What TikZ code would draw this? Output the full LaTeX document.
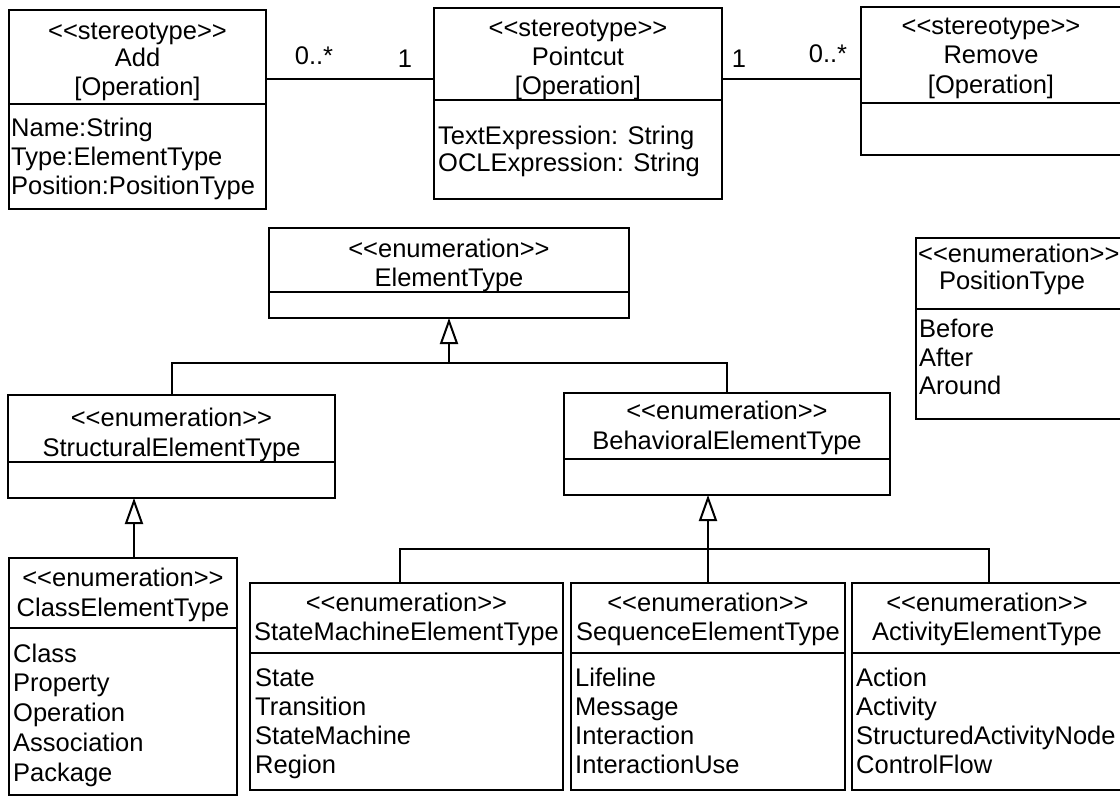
\documentclass[tikz,border=0pt]{standalone}
\usepackage{fontspec}
\setmainfont{Liberation Sans}
\usetikzlibrary{arrows.meta}

% class box: name, left, top, right, bottom, y of the compartment line
\newcommand{\umlbox}[6]{%
  \node[box, minimum width={(#4)-(#2)}, minimum height={(#5)-(#3)}] (#1) at (#2,#3) {};
  \draw[divider] (#1.west |- 0,#6) -- (#1.east |- 0,#6);
}

\begin{document}
\begin{tikzpicture}[x=1pt,y=-1pt,
  box/.style={draw, line width=1.3pt, inner sep=0pt, outer sep=0pt, anchor=north west},
  divider/.style={line width=1.3pt},
  assoc/.style={line width=2.2pt},
  link/.style={line width=2pt},
  gen/.style={line width=2pt, -{Triangle[open,length=26pt,width=18pt]}},
  txt/.style={inner sep=0pt, font=\fontsize{25.5}{29}\selectfont, anchor=base},
  lft/.style={txt, anchor=base west},
]
\useasboundingbox (0,0) rectangle (1120,797);
\fill[white] (0,0) rectangle (1120,797);
\clip (0,0) rectangle (1120,797);

% ---- stereotypes ----
\umlbox{add}{9}{10}{266}{209}{104}
\node[txt] (add-1) at (137.5,40) {<{}<stereotype>{}>};
\node[txt] (add-2) at (137.5,67) {Add};
\node[txt] (add-3) at (137.5,96) {[Operation]};
\node[lft] (add-a1) at (11,137) {Name:String};
\node[lft] (add-a2) at (11,166) {Type:ElementType};
\node[lft] (add-a3) at (11,195) {Position:PositionType};

\umlbox{pc}{434}{8}{722}{199}{100}
\node[txt] (pc-1) at (578,37) {<{}<stereotype>{}>};
\node[txt] (pc-2) at (578,66) {Pointcut};
\node[txt] (pc-3) at (578,95) {[Operation]};
\node[lft] (pc-a1) at (438,145) {TextExpression: String};
\node[lft] (pc-a2) at (438,172) {OCLExpression: String};

\umlbox{rm}{861}{7}{1122}{155}{103}
\node[txt] (rm-1) at (991,35) {<{}<stereotype>{}>};
\node[txt] (rm-2) at (991,64) {Remove};
\node[txt] (rm-3) at (991,94) {[Operation]};

% ---- associations ----
\coordinate (ya) at (0,79);
\draw[assoc] (add.east |- ya) -- (pc.west |- ya);
\draw[assoc] (pc.east |- ya) -- (rm.west |- ya);
\node[txt] (m1) at (314,65) {0..*};
\node[txt] (m2) at (405,68) {1};
\node[txt] (m3) at (739,68) {1};
\node[txt] (m4) at (828,63) {0..*};

% ---- enumerations ----
\umlbox{et}{269}{228}{629}{318}{292}
\node[txt] (et-1) at (449,257) {<{}<enumeration>{}>};
\node[txt] (et-2) at (449,286) {ElementType};

\umlbox{pos}{916}{238}{1122}{419}{309}
\node[lft] (pos-1) at (918,262) {<{}<enumeration>{}>};
\node[txt] (pos-2) at (1012,289) {PositionType};
\node[lft] (pos-a1) at (919,337) {Before};
\node[lft] (pos-a2) at (919,366) {After};
\node[lft] (pos-a3) at (919,394) {Around};

\umlbox{st}{8}{395}{335}{498}{462}
\node[txt] (st-1) at (171.5,426) {<{}<enumeration>{}>};
\node[txt] (st-2) at (171.5,456) {StructuralElementType};

\umlbox{bh}{564}{393}{890}{495}{459}
\node[txt] (bh-1) at (727,419) {<{}<enumeration>{}>};
\node[txt] (bh-2) at (727,449) {BehavioralElementType};

\umlbox{cl}{9}{558}{237}{795}{628}
\node[txt] (cl-1) at (123,586) {<{}<enumeration>{}>};
\node[txt] (cl-2) at (123,616) {ClassElementType};
\node[lft] (cl-a1) at (13,662) {Class};
\node[lft] (cl-a2) at (13,691) {Property};
\node[lft] (cl-a3) at (13,721) {Operation};
\node[lft] (cl-a4) at (13,751) {Association};
\node[lft] (cl-a5) at (13,781) {Package};

\umlbox{sm}{250}{583}{563}{790}{653}
\node[txt] (sm-1) at (406.5,611) {<{}<enumeration>{}>};
\node[txt] (sm-2) at (406.5,640) {StateMachineElementType};
\node[lft] (sm-a1) at (255,686) {State};
\node[lft] (sm-a2) at (255,715) {Transition};
\node[lft] (sm-a3) at (255,744) {StateMachine};
\node[lft] (sm-a4) at (255,773) {Region};

\umlbox{sq}{571}{583}{845}{790}{653}
\node[txt] (sq-1) at (708,611) {<{}<enumeration>{}>};
\node[txt] (sq-2) at (708,640) {SequenceElementType};
\node[lft] (sq-a1) at (575,686) {Lifeline};
\node[lft] (sq-a2) at (575,715) {Message};
\node[lft] (sq-a3) at (575,744) {Interaction};
\node[lft] (sq-a4) at (575,773) {InteractionUse};

\umlbox{ac}{852}{583}{1122}{790}{653}
\node[txt] (ac-1) at (987,611) {<{}<enumeration>{}>};
\node[txt] (ac-2) at (987,640) {ActivityElementType};
\node[lft] (ac-a1) at (856,686) {Action};
\node[lft] (ac-a2) at (856,715) {Activity};
\node[lft] (ac-a3) at (856,744) {StructuredActivityNode};
\node[lft] (ac-a4) at (856,773) {ControlFlow};

% ---- generalizations ----
\coordinate (j1) at (449,363);
\draw[link] (st.north) |- (j1) -| (bh.north);
\draw[gen] (j1) -- (et.south);

\coordinate (j2) at (134,0);
\draw[gen] (cl.north -| j2) -- (st.south -| j2);

\coordinate (j3) at (708,549);
\coordinate (csm) at (400,0);
\coordinate (cac) at (989,0);
\draw[link] (sm.north -| csm) |- (j3) -| (ac.north -| cac);
\draw[link] (sq.north) -- (j3);
\draw[gen] (j3) -- (bh.south -| j3);
\end{tikzpicture}
\end{document}
